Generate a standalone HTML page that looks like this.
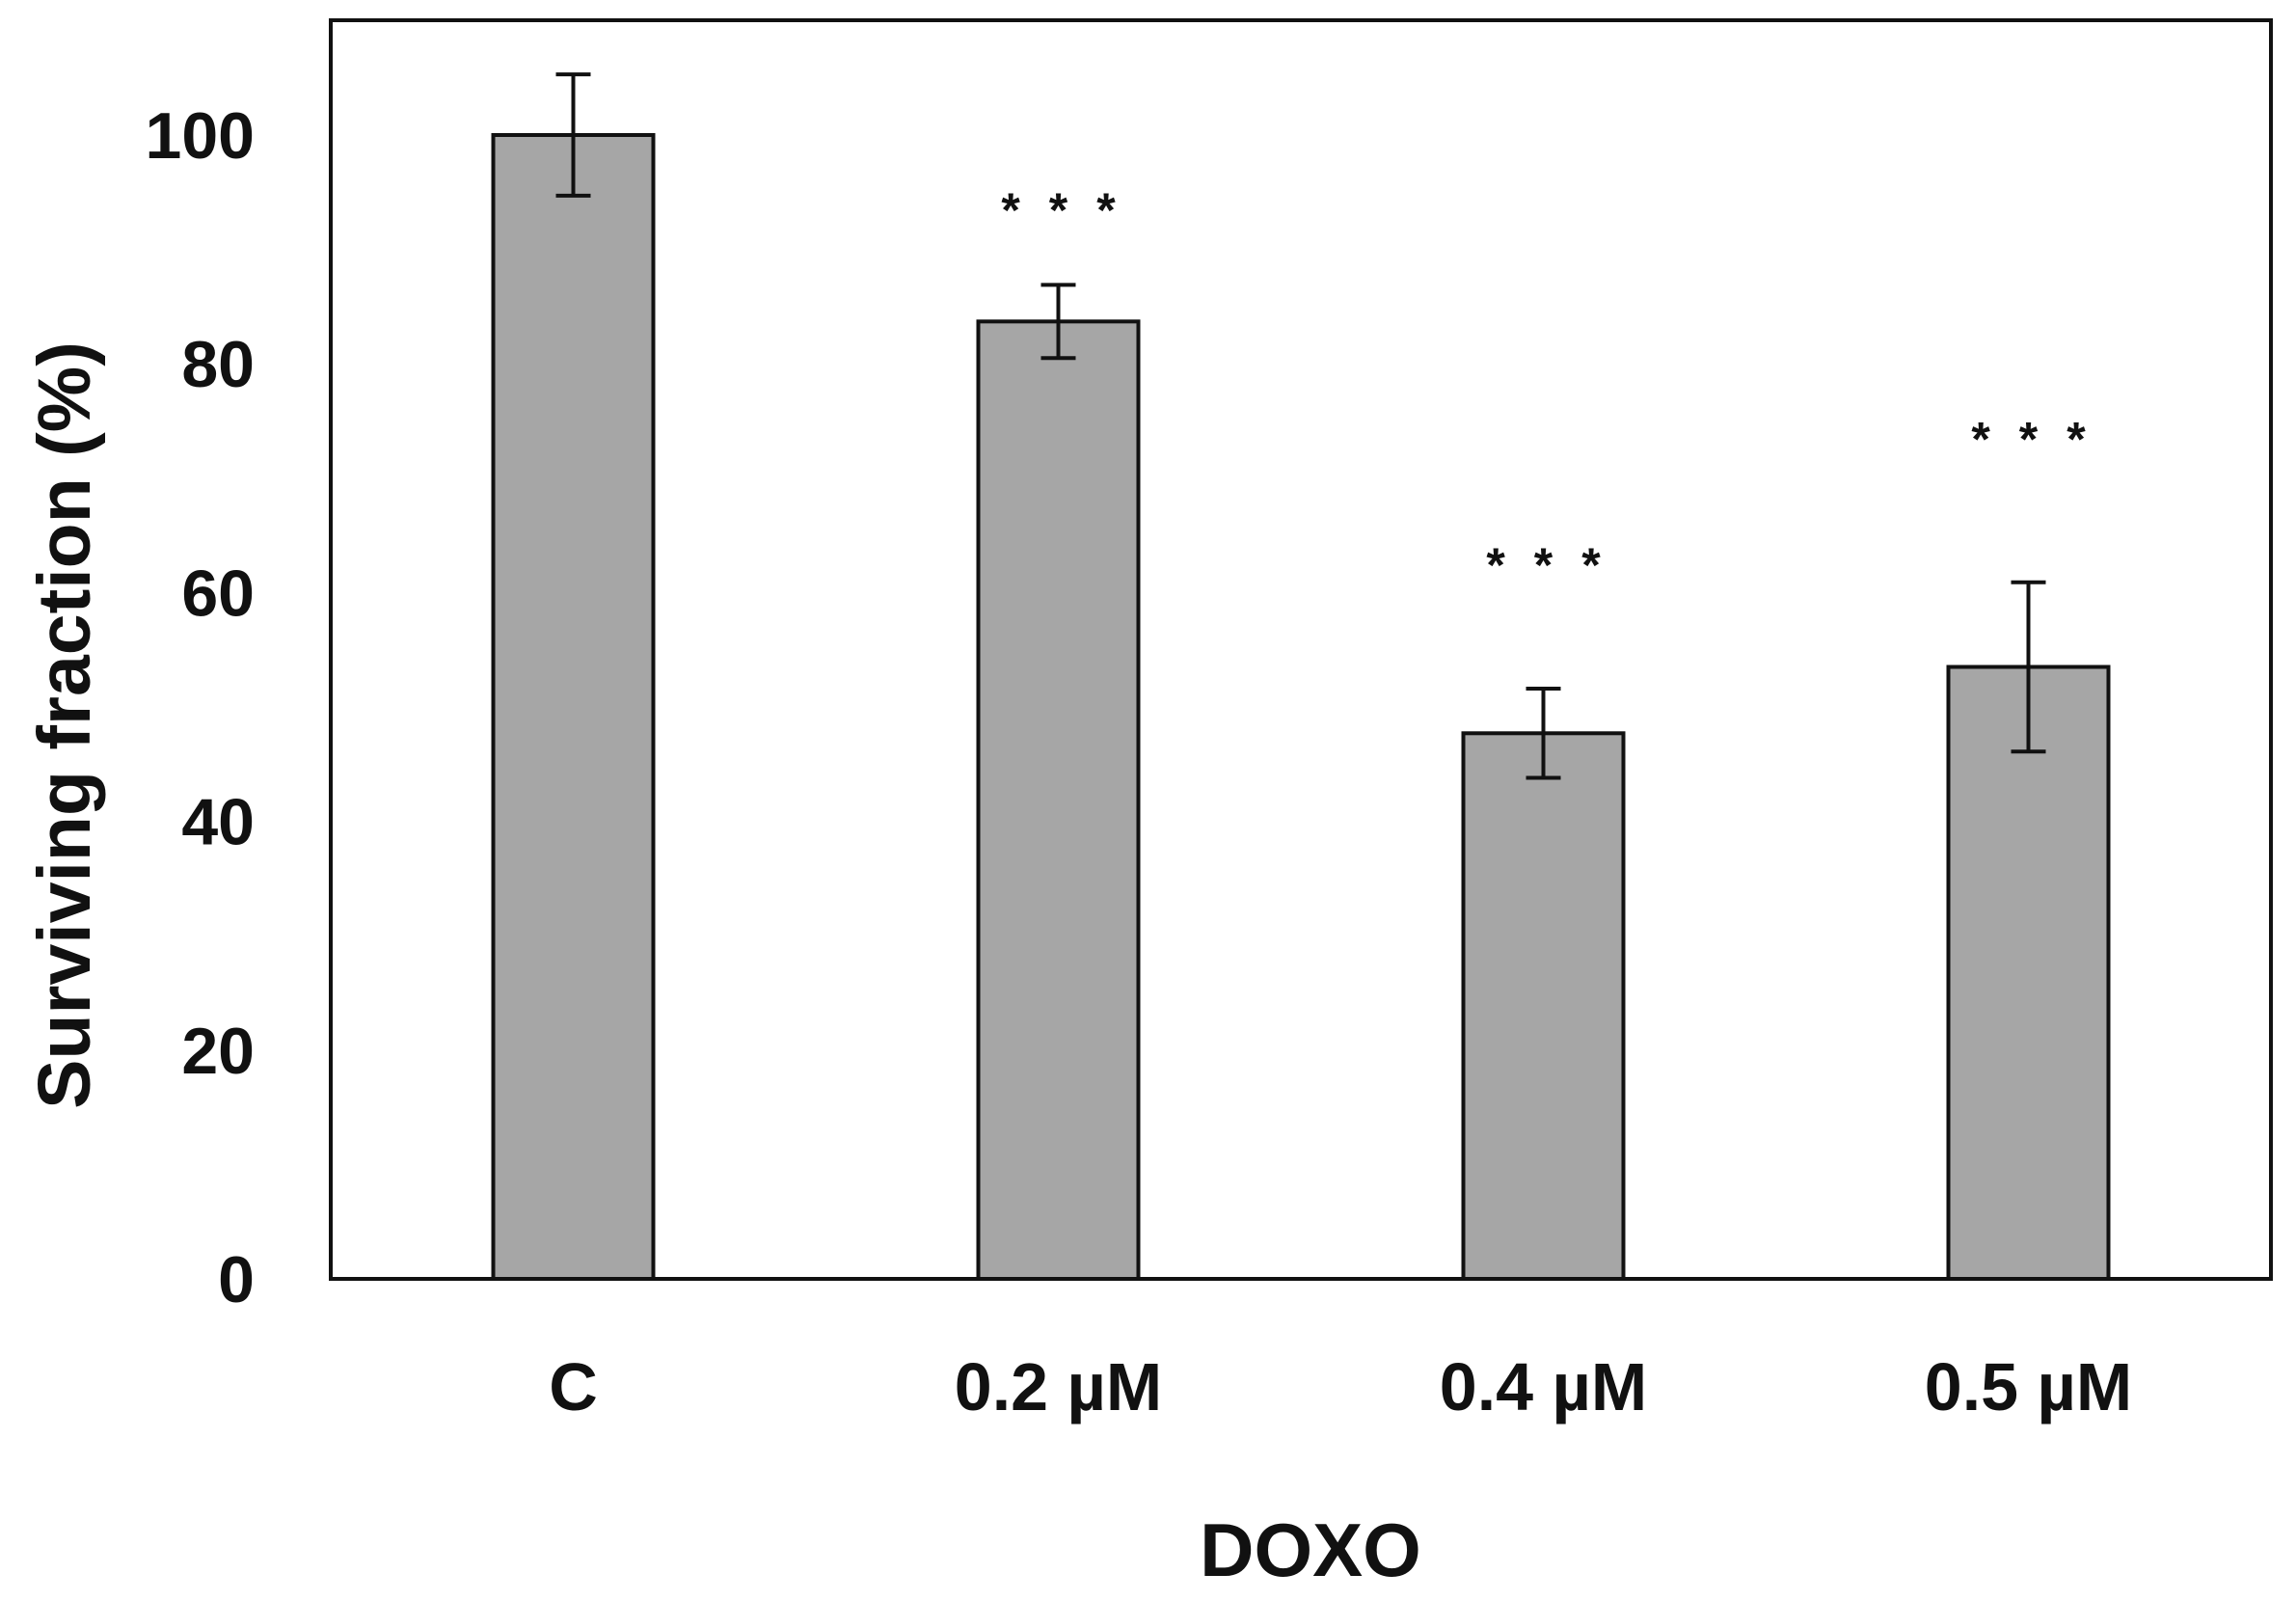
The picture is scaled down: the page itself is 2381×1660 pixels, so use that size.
<!DOCTYPE html>
<html><head><meta charset="utf-8"><style>
html,body{margin:0;padding:0;background:#fff}
svg{display:block}
text{font-family:"Liberation Sans",sans-serif;font-weight:bold;fill:#111}
</style></head><body>
<svg id="chart" width="2381" height="1660" viewBox="0 0 2381 1660" xmlns="http://www.w3.org/2000/svg">
<g id="marks"></g>
<rect x="343" y="21" width="2012" height="1305" fill="none" stroke="#111" stroke-width="4"/>
<text transform="translate(93,752) rotate(-90)" text-anchor="middle" font-size="77">Surviving fraction (%)</text>
<text x="1359" y="1634" text-anchor="middle" font-size="78">DOXO</text>
</svg>
<script>
const categories = ["C", "0.2 µM", "0.4 µM", "0.5 µM"];
const values = [100, 83.7, 47.7, 53.5];
const errors = [5.3, 3.2, 3.9, 7.4];
const stars = ["", "***", "***", "***"];
const starLevels = [0, 94.5, 63.5, 74.5];
const yTicks = [0, 20, 40, 60, 80, 100];

const plotL = 343, plotR = 2355, y0px = 1326, y100px = 140;
const band = (plotR - plotL) / categories.length;
const yScale = v => y0px - (y0px - y100px) * v / 100;
const xCenter = i => plotL + band * (i + 0.5);
const barW = band * 0.33;
const NS = "http://www.w3.org/2000/svg";
const g = document.getElementById("marks");
function mk(tag, attrs) {
  const e = document.createElementNS(NS, tag);
  for (const k in attrs) e.setAttribute(k, attrs[k]);
  return e;
}
yTicks.forEach(t => {
  const tx = mk("text", {x: 264, y: yScale(t) + 24, "text-anchor": "end", "font-size": 68});
  tx.textContent = t;
  
  
  g.appendChild(tx);
});
categories.forEach((c, i) => {
  const cx = xCenter(i);
  const top = yScale(values[i]);
  const bar = mk("rect", {x: cx - barW / 2, y: top, width: barW, height: y0px - top, fill: "#a6a6a6", stroke: "#111", "stroke-width": 4});
  
  
  g.appendChild(bar);
  const hi = yScale(values[i] + errors[i]), lo = yScale(values[i] - errors[i]);
  const eb = mk("path", {d: `M${cx},${hi}V${lo}M${cx-18},${hi}H${cx+18}M${cx-18},${lo}H${cx+18}`, stroke: "#111", "stroke-width": 4, fill: "none"});
  
  
  g.appendChild(eb);
  const lab = mk("text", {x: cx, y: 1462, "text-anchor": "middle", "font-size": 70});
  lab.textContent = c;
  
  
  g.appendChild(lab);
  if (stars[i]) {
    const s = mk("text", {x: cx + 15, y: yScale(starLevels[i]) + 30, "text-anchor": "middle", "font-size": 50, "letter-spacing": "30"});
    s.textContent = stars[i];
    
    
    g.appendChild(s);
  }
});
</script>
</body></html>
